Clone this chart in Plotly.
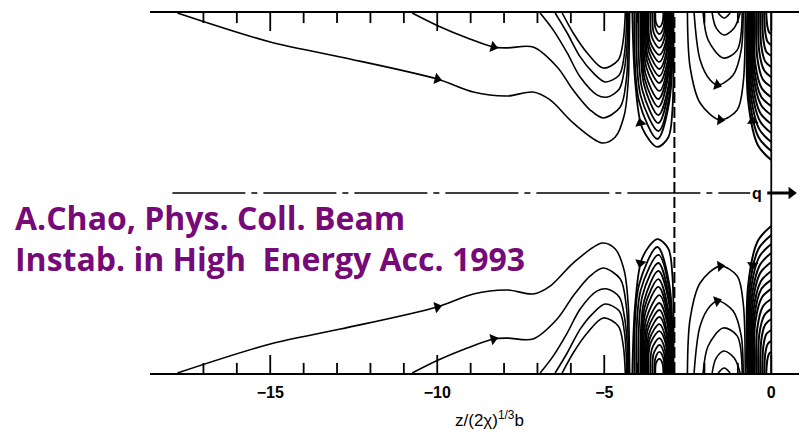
import plotly.graph_objects as go

# Coordinates: x = z/(2chi)^(1/3) b ; y = r/b (pipe wall at y = 1).
# Upper-half field lines; the lower half is drawn from the same values on a reversed y axis.

# Long lines starting on the wall far behind the charge
line_a_x = [-17.78, -15.0, -12.90, -10.0, -8.92, -7.90, -7.13, -6.62, -5.93, -5.06, -4.67, -4.40, -4.28, -4.25, -4.24]
line_a_y = [1.0, 0.839, 0.756, 0.633, 0.561, 0.539, 0.561, 0.517, 0.389, 0.278, 0.311, 0.433, 0.628, 0.85, 1.0]
line_b_x = [-10.75, -9.97, -9.10, -8.32, -7.90, -7.13, -6.41, -5.93, -5.42, -5.03, -4.52, -4.34, -4.28, -4.28]
line_b_y = [1.0, 0.928, 0.861, 0.811, 0.806, 0.811, 0.70, 0.572, 0.461, 0.417, 0.478, 0.628, 0.85, 1.0]
line_c_x = [-6.92, -6.53, -6.11, -5.72, -5.21, -4.91, -4.55, -4.40, -4.31, -4.30]
line_c_y = [1.0, 0.906, 0.778, 0.644, 0.544, 0.533, 0.578, 0.683, 0.85, 1.0]
line_d_x = [-6.47, -6.11, -5.72, -5.33, -4.97, -4.55, -4.40, -4.34, -4.33]
line_d_y = [1.0, 0.889, 0.756, 0.667, 0.617, 0.656, 0.767, 0.906, 1.0]
line_e_x = [-6.26, -5.93, -5.51, -5.03, -4.58, -4.43, -4.37]
line_e_y = [1.0, 0.889, 0.778, 0.694, 0.739, 0.85, 1.0]

# Dense nested loops just behind the dashed line
g2_x = [
    [-4.16, -4.07, -3.86, -3.41, -3.08, -2.96, -2.93],
    [-4.10, -3.96, -3.41, -3.05, -2.96],
    [-4.04, -3.91, -3.38, -3.05, -2.96],
    [-3.98, -3.86, -3.38, -3.07, -2.99],
    [-3.92, -3.81, -3.38, -3.07, -2.99],
    [-3.89, -3.79, -3.38, -3.10, -3.02],
    [-3.86, -3.77, -3.38, -3.10, -3.02],
    [-3.83, -3.74, -3.35, -3.11, -3.05],
    [-3.80, -3.71, -3.35, -3.11, -3.05],
    [-3.77, -3.69, -3.35, -3.14, -3.08],
    [-3.74, -3.66, -3.35, -3.14, -3.08],
    [-3.71, -3.64, -3.35, -3.16, -3.11],
    [-3.68, -3.62, -3.35, -3.16, -3.11],
    [-3.62, -3.57, -3.35, -3.19, -3.14],
    [-3.56, -3.52, -3.35, -3.21, -3.17],
    [-3.50, -3.47, -3.35, -3.23, -3.20],
    [-3.47, -3.45, -3.35, -3.26, -3.23],
]
g2_y = [
    [1.0, 0.61, 0.36, 0.256, 0.31, 0.46, 1.0],
    [1.0, 0.511, 0.30, 0.511, 1.0],
    [1.0, 0.541, 0.344, 0.541, 1.0],
    [1.0, 0.572, 0.389, 0.572, 1.0],
    [1.0, 0.603, 0.433, 0.603, 1.0],
    [1.0, 0.634, 0.478, 0.634, 1.0],
    [1.0, 0.666, 0.522, 0.666, 1.0],
    [1.0, 0.697, 0.567, 0.697, 1.0],
    [1.0, 0.728, 0.611, 0.728, 1.0],
    [1.0, 0.755, 0.65, 0.755, 1.0],
    [1.0, 0.782, 0.689, 0.782, 1.0],
    [1.0, 0.809, 0.728, 0.809, 1.0],
    [1.0, 0.837, 0.767, 0.837, 1.0],
    [1.0, 0.864, 0.806, 0.864, 1.0],
    [1.0, 0.891, 0.844, 0.891, 1.0],
    [1.0, 0.918, 0.883, 0.918, 1.0],
    [1.0, 0.946, 0.922, 0.946, 1.0],
]

# Loops between the dashed line and the charge plane
g3_x = [
    [-2.51, -2.43, -2.13, -1.53, -1.02, -0.84, -0.78],
    [-2.31, -2.13, -1.83, -1.59, -1.14, -0.90, -0.84],
    [-2.04, -1.89, -1.44, -1.02, -0.87],
    [-1.77, -1.65, -1.41, -1.11, -0.93],
    [-1.59, -1.41, -1.23],
]
g3_y = [
    [1.0, 0.70, 0.50, 0.406, 0.461, 0.611, 1.0],
    [1.0, 0.739, 0.628, 0.60, 0.656, 0.794, 1.0],
    [1.0, 0.85, 0.75, 0.794, 1.0],
    [1.0, 0.917, 0.878, 0.917, 1.0],
    [1.0, 0.972, 1.0],
]

# Lines from the wall ending on the charge plane (x = 0)
g4_x = [
    [-0.72, -0.69, -0.40, 0.0],
    [-0.69, -0.66, -0.38, 0.0],
    [-0.66, -0.63, -0.36, 0.0],
    [-0.63, -0.60, -0.34, 0.0],
    [-0.60, -0.57, -0.33, 0.0],
    [-0.57, -0.54, -0.31, 0.0],
    [-0.54, -0.51, -0.30, 0.0],
    [-0.51, -0.48, -0.28, 0.0],
    [-0.45, -0.42, -0.25, 0.0],
    [-0.39, -0.36, -0.21, 0.0],
    [-0.33, -0.30, -0.18, 0.0],
    [-0.27, -0.24, -0.15, 0.0],
    [-0.21, -0.18, -0.11, 0.0],
    [-0.15, -0.12, -0.07, 0.0],
]
g4_y = [
    [1.0, 0.51, 0.265, 0.183],
    [1.0, 0.54, 0.31, 0.233],
    [1.0, 0.57, 0.355, 0.283],
    [1.0, 0.60, 0.40, 0.333],
    [1.0, 0.63, 0.445, 0.383],
    [1.0, 0.66, 0.49, 0.433],
    [1.0, 0.69, 0.535, 0.483],
    [1.0, 0.72, 0.58, 0.533],
    [1.0, 0.753, 0.63, 0.589],
    [1.0, 0.787, 0.68, 0.644],
    [1.0, 0.82, 0.73, 0.70],
    [1.0, 0.857, 0.785, 0.761],
    [1.0, 0.893, 0.84, 0.822],
    [1.0, 0.93, 0.895, 0.883],
]

# Arrowheads: point just before the head, and the head itself
arrow_from_x = [-10.6, -8.8, -3.86, -1.72, -1.80, -0.53]
arrow_from_y = [0.66, 0.835, 0.34, 0.41, 0.61, 0.34]
arrow_to_x = [-10.0, -8.32, -3.92, -1.53, -1.62, -0.56]
arrow_to_y = [0.633, 0.811, 0.389, 0.406, 0.60, 0.40]

# Reference lines
axis_line_x = [-17.93, -0.63]
axis_line_y = [0.0, 0.0]
sep_x = -2.9
charge_x = 0.0
wall_y = [-1.0, 1.0]
q_arrow_x = [-0.12, 0.60]
q_arrow_y = [0.0, 0.0]

tick_vals = [-15, -10, -5, 0]
tick_text = ["\u221215", "\u221210", "\u22125", "0"]
minor_vals = [-17, -16, -14, -13, -12, -11, -9, -8, -7, -6, -4, -3, -2, -1]
x_range = [-18.6, 1.07]

# wall tick marks (length in units of the pipe radius; style only)
MAJOR_LEN = 0.10
MINOR_LEN = 0.056
tick_seg_x, tick_seg_y = [], []
for v in tick_vals:
    tick_seg_x += [v, v, None]
    tick_seg_y += [1.0, 1.0 - MAJOR_LEN, None]
for v in minor_vals:
    tick_seg_x += [v, v, None]
    tick_seg_y += [1.0, 1.0 - MINOR_LEN, None]

fig = go.Figure()


def add_line(xs, ys, width=1.6, shape="spline"):
    for ax in ("y", "y2"):
        fig.add_trace(go.Scatter(
            x=xs, y=ys, yaxis=ax, mode="lines",
            line=dict(color="black", width=width, shape=shape, smoothing=0.9),
            hoverinfo="skip", showlegend=False))


add_line(tick_seg_x, tick_seg_y, 1.8, "linear")
for xs, ys in [(line_a_x, line_a_y), (line_b_x, line_b_y), (line_c_x, line_c_y),
               (line_d_x, line_d_y), (line_e_x, line_e_y)]:
    add_line(xs, ys)
for xs, ys in zip(g2_x, g2_y):
    add_line(xs, ys, 1.8)
for xs, ys in zip(g3_x, g3_y):
    add_line(xs, ys)
for xs, ys in zip(g4_x, g4_y):
    add_line(xs, ys, 2.0)

for fx, fy, tx, ty in zip(arrow_from_x, arrow_from_y, arrow_to_x, arrow_to_y):
    for ax in ("y", "y2"):
        fig.add_trace(go.Scatter(
            x=[fx, tx], y=[fy, ty], yaxis=ax, mode="markers",
            marker=dict(symbol="triangle-up", size=[0, 10], opacity=[0, 1],
                        color="black", angleref="previous", line=dict(width=0)),
            hoverinfo="skip", showlegend=False))

# centre (beam axis) dash-dot line
fig.add_trace(go.Scatter(x=axis_line_x, y=axis_line_y, mode="lines",
                         line=dict(color="black", width=1.5, dash="73px,6px,6px,6px"),
                         hoverinfo="skip", showlegend=False))
# dashed separator
fig.add_trace(go.Scatter(x=[sep_x, sep_x], y=wall_y, mode="lines",
                         line=dict(color="black", width=2, dash="11px,4px"),
                         hoverinfo="skip", showlegend=False))
# charge plane
fig.add_trace(go.Scatter(x=[charge_x, charge_x], y=wall_y, mode="lines",
                         line=dict(color="black", width=1.8),
                         hoverinfo="skip", showlegend=False))
# q -> c arrow
fig.add_trace(go.Scatter(x=q_arrow_x, y=q_arrow_y, mode="lines+markers",
                         line=dict(color="black", width=3),
                         marker=dict(symbol="triangle-up", size=[0, 11], opacity=[0, 1],
                                     color="black", angleref="previous", line=dict(width=0)),
                         cliponaxis=False, hoverinfo="skip", showlegend=False))

purple = "#760A78"
fig.update_layout(
    width=799, height=426,
    margin=dict(l=142, r=0, t=5, b=61),
    paper_bgcolor="white", plot_bgcolor="white",
    showlegend=False,
    xaxis=dict(range=x_range, showline=True, linewidth=2.2, linecolor="black", mirror=True,
               ticks="", tickmode="array", tickvals=tick_vals, ticktext=tick_text,
               tickfont=dict(family="Liberation Sans", size=16, color="black", weight="bold"),
               ticklabelstandoff=4, showgrid=False, zeroline=False),
    yaxis=dict(range=[-1, 1], visible=False, showgrid=False, zeroline=False),
    yaxis2=dict(range=[1, -1], overlaying="y", visible=False, showgrid=False, zeroline=False),
    annotations=[
        dict(text="A.Chao, Phys. Coll. Beam", xref="paper", yref="paper",
             x=-0.2085, y=0.433, xanchor="left", yanchor="middle", showarrow=False,
             font=dict(family="Open Sans", size=32, color=purple, weight="bold")),
        dict(text="Instab. in High \u00a0Energy Acc. 1993", xref="paper", yref="paper",
             x=-0.2085, y=0.317, xanchor="left", yanchor="middle", showarrow=False,
             font=dict(family="Open Sans", size=32, color=purple, weight="bold")),
        dict(text="z/(2\u03c7)<sup>1/3</sup>b", xref="paper", yref="paper",
             x=0.5175, y=-0.128, xanchor="center", yanchor="middle", showarrow=False,
             font=dict(family="Liberation Sans", size=17, color="black")),
        dict(text="q", xref="x", yref="y", x=-0.42, y=0.0, xanchor="center", yanchor="middle",
             showarrow=False, font=dict(family="Liberation Sans", size=16, color="black", weight="bold")),
        dict(text="c", xref="paper", yref="y", x=1.006, y=0.0, xanchor="center", yanchor="middle",
             showarrow=False, font=dict(family="Liberation Sans", size=16, color="black", weight="bold")),
    ],
)

fig.write_html("out.html")
